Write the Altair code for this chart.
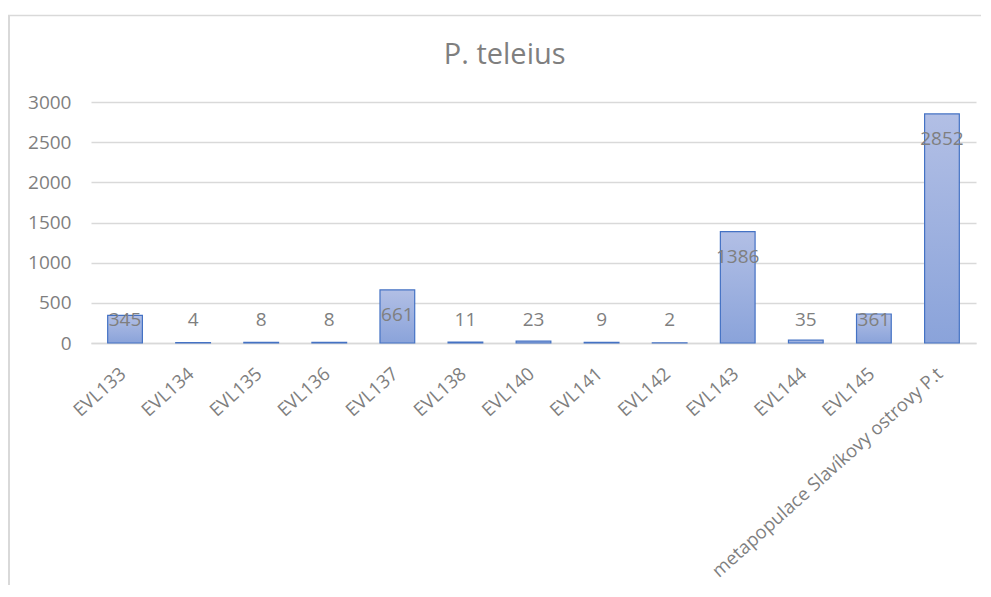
import altair as alt
import pandas as pd

categories = ["EVL133", "EVL134", "EVL135", "EVL136", "EVL137", "EVL138", "EVL140",
              "EVL141", "EVL142", "EVL143", "EVL144", "EVL145",
              "metapopulace Slavíkovy ostrovy P.t"]
values = [345, 4, 8, 8, 661, 11, 23, 9, 2, 1386, 35, 361, 2852]
y_ticks = [0, 500, 1000, 1500, 2000, 2500, 3000]
title_text = "P. teleius"

df = pd.DataFrame({"site": categories, "n": values})
frame_df = pd.DataFrame({"k": [0]})
title_df = pd.DataFrame({"t": [title_text]})

FONT = "Open Sans"
GREY = "#7f7f7f"
LIGHT = "#d9d9d9"

x_enc = alt.X(
    "site:N", sort=categories,
    scale=alt.Scale(paddingInner=0.49, paddingOuter=0.245),
    axis=alt.Axis(title=None, labelAngle=-42, labelFontSize=18.5, labelFont=FONT,
                  labelColor=GREY, ticks=False, domainColor=LIGHT, domainWidth=1.5,
                  labelPadding=21, labelOffset=-8, labelLimit=400),
)
y_scale = alt.Scale(domain=[0, 3000], nice=False)
y_axis = alt.Axis(title=None, values=y_ticks, format="d", grid=True, gridColor=LIGHT,
                  gridWidth=1.5, domain=False, ticks=False, labelPadding=20,
                  labelFontSize=19, labelFont=FONT, labelColor=GREY)

base = alt.Chart(df).encode(x=x_enc)

bars = base.mark_bar(
    color=alt.Gradient(
        gradient="linear",
        stops=[alt.GradientStop(color="#b2bfe5", offset=0),
               alt.GradientStop(color="#8aa3da", offset=1)],
        x1=0, x2=0, y1=0, y2=1,
    ),
    stroke="#4472c4", strokeWidth=1.2,
).encode(y=alt.Y("n:Q", scale=y_scale, axis=y_axis))

labels = base.transform_calculate(
    lab_y="max(datum.n - 310, 283)"
).mark_text(font=FONT, fontSize=19, color=GREY, baseline="middle").encode(
    y=alt.Y("lab_y:Q", scale=y_scale, axis=y_axis),
    text="n:Q",
)

title = alt.Chart(title_df).mark_text(
    font=FONT, fontSize=29, color=GREY, align="center", baseline="alphabetic"
).encode(x=alt.value(413.7), y=alt.value(-37.7), text="t:N")

frame_left = alt.Chart(frame_df).mark_rule(color=LIGHT, strokeWidth=2).encode(
    x=alt.value(-82), y=alt.value(-87), y2=alt.value(483)
)
frame_top = alt.Chart(frame_df).mark_rule(color=LIGHT, strokeWidth=1.5).encode(
    x=alt.value(-83), x2=alt.value(890), y=alt.value(-86.5)
)

chart = alt.layer(frame_left, frame_top, bars, labels, title).properties(
    width=885, height=241,
    padding={"left": 83, "top": 94, "right": 5, "bottom": 242},
    autosize=alt.AutoSizeParams(type="none"),
    background="white",
).configure_view(stroke=None)

chart.save("out.html", embed_options={"renderer": "svg", "actions": False})
